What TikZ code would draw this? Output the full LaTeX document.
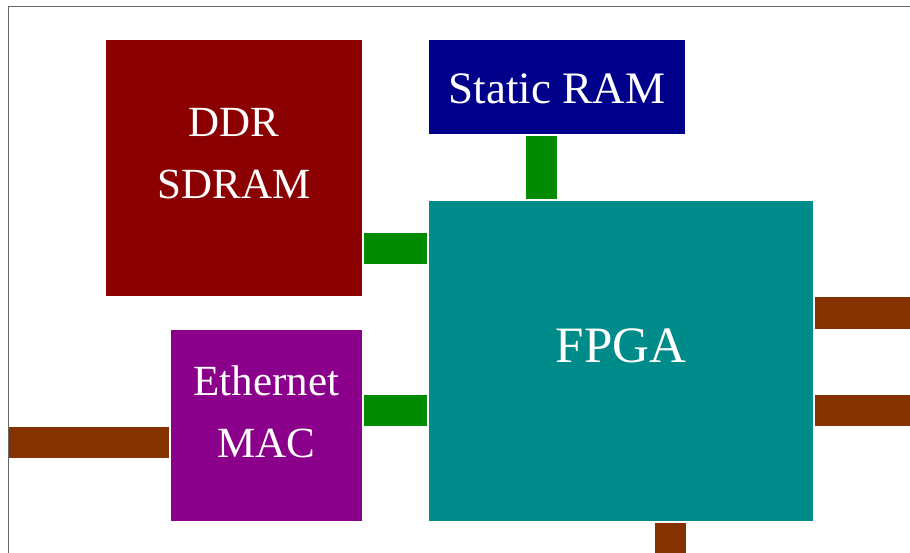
\documentclass[tikz,border=0pt]{standalone}
\usepackage{fontspec}
\setmainfont{Liberation Serif}
\definecolor{ddrcol}{HTML}{8B0000}
\definecolor{sramcol}{HTML}{00008B}
\definecolor{fpgacol}{HTML}{008B8B}
\definecolor{maccol}{HTML}{8B008B}
\definecolor{buscol}{HTML}{008B00}
\definecolor{iocol}{HTML}{833200}
\definecolor{framecol}{HTML}{666666}
\begin{document}
\begin{tikzpicture}[
    x=1pt, y=-1pt,
    block/.style={rectangle, inner sep=0pt, outer sep=0pt},
    blocktext/.style={text=white, align=center, inner sep=0pt, font=\fontsize{43}{62}\selectfont},
    bus/.style={line width=31pt, buscol, shorten <=2pt, shorten >=2pt},
    io/.style={line width=31pt, iocol},
    frame/.style={line width=1.8pt, framecol}
]
\useasboundingbox (0,0) rectangle (910,553);

% Cadre
\draw[frame] (8.5,560) -- (8.5,6.5) -- (915,6.5);

% Blocs
\node[block, fill=ddrcol, minimum width=256pt, minimum height=256pt] (ddr) at (234,168) {};
\node[block, fill=sramcol, minimum width=256pt, minimum height=94pt] (sram) at (557,87) {};
\node[block, fill=fpgacol, minimum width=384pt, minimum height=320pt] (fpga) at (621,361) {};
\node[block, fill=maccol, minimum width=191pt, minimum height=191pt] (mac) at (266.5,425.5) {};

% Textes
\node[blocktext] (ddrtxt) at ([yshift=14pt]ddr.center) {DDR\\SDRAM};
\node[blocktext, font=\fontsize{45}{54}\selectfont] (sramtxt) at ([yshift=-2pt]sram.center) {Static RAM};
\node[blocktext, font=\fontsize{51}{60}\selectfont] (fpgatxt) at ([yshift=15pt]fpga.center) {FPGA};
\node[blocktext] (mactxt) at ([yshift=14pt]mac.center) {Ethernet\\MAC};

% Bus internes
\draw[bus] (ddr.east |- 0,248.5) -- (fpga.west |- 0,248.5);
\draw[bus] (sram.south -| 541,0) -- (fpga.north -| 541,0);
\draw[bus] (mac.east |- 0,410.5) -- (fpga.west |- 0,410.5);

% Liaisons externes
\coordinate (lan) at (9,442);
\coordinate (out1) at (915,313);
\coordinate (out2) at (915,410);
\coordinate (out3) at (670,560);
\draw[io, shorten >=2pt] (lan) -- (mac.west |- lan);
\draw[io, shorten <=2pt] (fpga.east |- out1) -- (out1);
\draw[io, shorten <=2pt] (fpga.east |- out2) -- (out2);
\draw[io, shorten <=2pt] (fpga.south -| out3) -- (out3);

\end{tikzpicture}
\end{document}
